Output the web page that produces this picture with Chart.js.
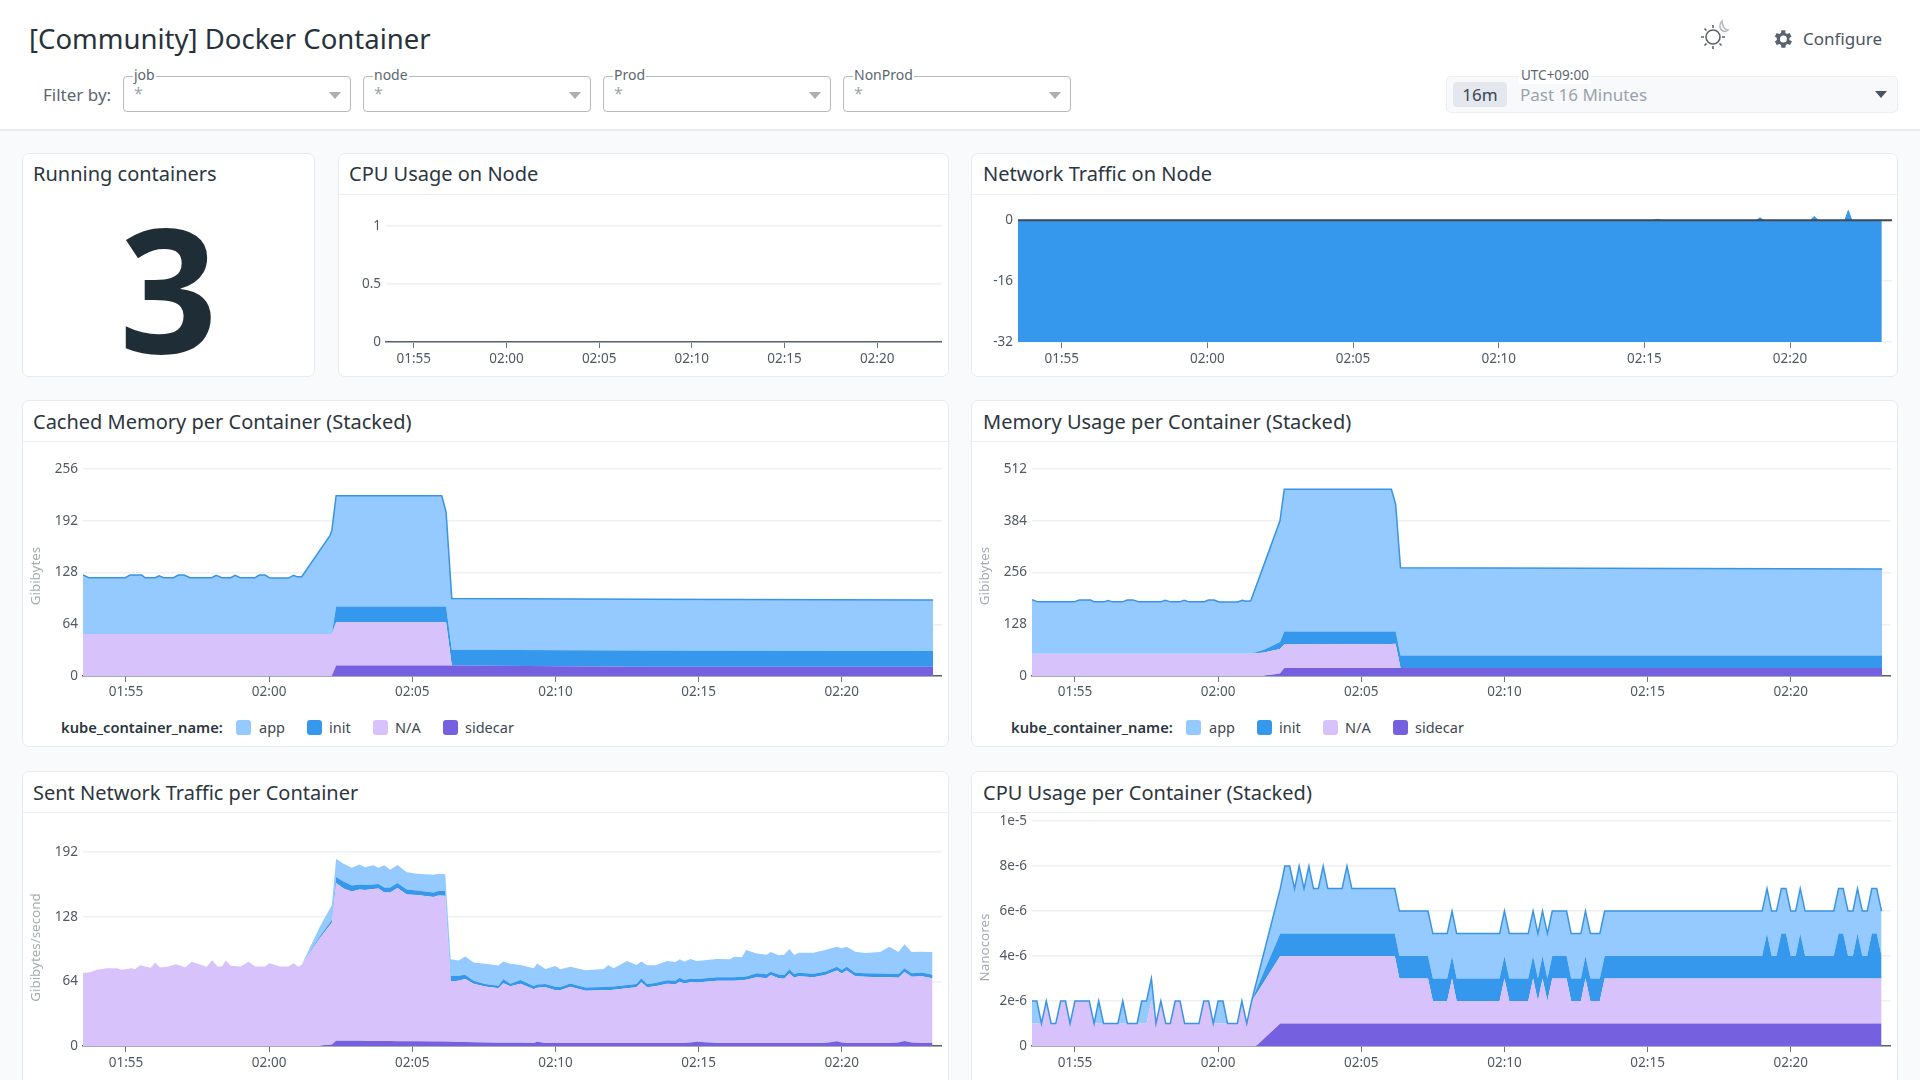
<!DOCTYPE html>
<html>
<head>
<meta charset="utf-8">
<title>[Community] Docker Container</title>
<script src="https://cdn.jsdelivr.net/npm/chart.js@4/dist/chart.umd.min.js"></script>
<style>
  html, body { margin: 0; padding: 0; width: 1920px; height: 1080px; overflow: hidden; background: #f8fafc; font-family: "Noto Sans", sans-serif; color: #2c3640; }
  .abs, canvas { position: absolute; }
  #header { position: absolute; left: 0; top: 0; width: 1920px; height: 129px; background: #fff; border-bottom: 2px solid #e9ecef; }
  .card { position: absolute; background: #fff; border: 1px solid #e8ebee; border-radius: 7px; box-sizing: border-box; }
  .divider { position: absolute; height: 1px; background: #eceef1; }
  .cardTitle { position: absolute; font-size: 20px; line-height: 28px; white-space: nowrap; color: #2c3640; }
  .filter { position: absolute; top: 76px; width: 228px; height: 36px; box-sizing: border-box; border: 1px solid #b5bac0; border-radius: 4px; background: #fff; }
  .filter .lab { position: absolute; left: 9px; top: -11px; background: #fff; padding: 0 1px; font-size: 14px; line-height: 18px; color: #5b6670; }
  .filter .star { position: absolute; left: 10px; top: 5px; font-size: 16px; line-height: 22px; color: #9ea5ac; }
  .arrow { position: absolute; width: 0; height: 0; border-left: 6px solid transparent; border-right: 6px solid transparent; border-top: 7px solid #a9afb5; }
  .legend { position: absolute; top: 717px; height: 20px; font-size: 14.5px; line-height: 20px; color: #3d4852; white-space: nowrap; }
  .legend b { position: absolute; left: 0; font-weight: 600; font-size: 14.7px; color: #2c3640; }
  .legend i { position: absolute; top: 3px; width: 15px; height: 15px; border-radius: 3px; }
  .legend span { position: absolute; }
</style>
</head>
<body>
<div id="header"></div>
<div class="abs" style="left:29px;top:18px;font-size:27.5px;line-height:42px;white-space:nowrap;color:#28323b">[Community] Docker Container</div>
<div class="abs" style="left:43px;top:83px;font-size:17px;line-height:24px;color:#5b6670">Filter by:</div>

<div class="filter" style="left:123px"><span class="lab">job</span><span class="star">*</span><div class="arrow" style="left:205px;top:15px"></div></div>
<div class="filter" style="left:363px"><span class="lab">node</span><span class="star">*</span><div class="arrow" style="left:205px;top:15px"></div></div>
<div class="filter" style="left:603px"><span class="lab">Prod</span><span class="star">*</span><div class="arrow" style="left:205px;top:15px"></div></div>
<div class="filter" style="left:843px"><span class="lab">NonProd</span><span class="star">*</span><div class="arrow" style="left:205px;top:15px"></div></div>

<div class="abs" style="left:1446px;top:76px;width:452px;height:37px;box-sizing:border-box;background:#f8f9fb;border:1px solid #eceef2;border-radius:5px"></div>
<div class="abs" style="left:1453px;top:82px;width:54px;height:25px;background:#e4e7ee;border-radius:4px;text-align:center;font-size:17px;line-height:25px;color:#3a444e">16m</div>
<div class="abs" style="left:1520px;top:83px;font-size:17px;line-height:24px;color:#9aa3ad">Past 16 Minutes</div>
<div class="abs" style="left:1519px;top:66px;padding:0 2px;background:#fff;font-size:13.5px;line-height:18px;color:#5b6670">UTC+09:00</div>
<div class="arrow" style="left:1875px;top:91px;border-top-color:#4b555f"></div>

<svg class="abs" style="left:1698px;top:18px" width="34" height="34" viewBox="0 0 34 34" fill="none" stroke="#59636d" stroke-width="1.6">
  <circle cx="15" cy="19" r="7"/>
  <path d="M15 7v3M15 28v3M3 19h3M24 19h3M6.5 10.5l2 2M21.500 25.500l2 2M6.500 27.500l2-2"/>
  <path d="M24 3c-3 3-3 8 1 10 2 1 4 0 5-1-3 0-6-4-6-9z" stroke="#b5bac0"/>
</svg>
<svg class="abs" style="left:1771px;top:27px" width="24" height="24" viewBox="0 0 24 24" fill="#59636d">
  <path d="M19.400 13a7.600 7.600 0 0 0 0-2l2.100-1.600-2-3.500-2.500 1a7.500 7.500 0 0 0-1.700-1L15.400 3.300h-4l-.4 2.600a7.500 7.500 0 0 0-1.700 1l-2.500-1-2 3.500L6.900 11a7.600 7.600 0 0 0 0 2l-2.100 1.600 2 3.500 2.500-1a7.500 7.500 0 0 0 1.700 1l.4 2.600h4l.4-2.600a7.500 7.500 0 0 0 1.700-1l2.500 1 2-3.500zM13.400 15.500a3.500 3.500 0 1 1 0-7 3.500 3.500 0 0 1 0 7z" transform="translate(-1 0)"/>
</svg>
<div class="abs" style="left:1803px;top:27px;font-size:17px;line-height:24px;color:#4b555f">Configure</div>

<div class="card" style="left:22px;top:153px;width:293px;height:224px"></div>
<div class="card" style="left:338px;top:153px;width:611px;height:224px"></div>
<div class="card" style="left:971px;top:153px;width:927px;height:224px"></div>
<div class="card" style="left:22px;top:400px;width:927px;height:347px"></div>
<div class="card" style="left:971px;top:400px;width:927px;height:347px"></div>
<div class="card" style="left:22px;top:771px;width:927px;height:340px"></div>
<div class="card" style="left:971px;top:771px;width:927px;height:340px"></div>

<div class="divider" style="left:339px;top:194px;width:609px"></div>
<div class="divider" style="left:972px;top:194px;width:925px"></div>
<div class="divider" style="left:23px;top:441px;width:925px"></div>
<div class="divider" style="left:972px;top:441px;width:925px"></div>
<div class="divider" style="left:23px;top:812px;width:925px"></div>
<div class="divider" style="left:972px;top:812px;width:925px"></div>

<div class="cardTitle" style="left:33px;top:160px">Running containers</div>
<div class="cardTitle" style="left:349px;top:160px">CPU Usage on Node</div>
<div class="cardTitle" style="left:983px;top:160px">Network Traffic on Node</div>
<div class="cardTitle" style="left:33px;top:408px">Cached Memory per Container (Stacked)</div>
<div class="cardTitle" style="left:983px;top:408px">Memory Usage per Container (Stacked)</div>
<div class="cardTitle" style="left:33px;top:779px">Sent Network Traffic per Container</div>
<div class="cardTitle" style="left:983px;top:779px">CPU Usage per Container (Stacked)</div>

<div class="abs" style="left:22px;top:200px;width:293px;text-align:center;font-size:172px;line-height:172px;font-weight:700;color:#1f2d36">3</div>

<canvas id="graficoCpuNode" width="602" height="159" style="left:340px;top:213px"></canvas>
<canvas id="graficoNetwork" width="915" height="175" style="left:977px;top:197px"></canvas>
<canvas id="graficoCached" width="915" height="250" style="left:27px;top:456px"></canvas>
<canvas id="graficoMemory" width="915" height="250" style="left:976px;top:456px"></canvas>
<canvas id="graficoSent" width="915" height="240" style="left:27px;top:836px"></canvas>
<canvas id="graficoCpu" width="915" height="268" style="left:976px;top:808px"></canvas>

<div class="legend" style="left:61px;width:500px"><b>kube_container_name:</b>
  <i style="left:175px;background:#94caff"></i><span style="left:198px">app</span>
  <i style="left:246px;background:#3598ec"></i><span style="left:268px">init</span>
  <i style="left:312px;background:#d8c2fb"></i><span style="left:334px">N/A</span>
  <i style="left:382px;background:#7560df"></i><span style="left:404px">sidecar</span>
</div>
<div class="legend" style="left:1011px;width:500px"><b>kube_container_name:</b>
  <i style="left:175px;background:#94caff"></i><span style="left:198px">app</span>
  <i style="left:246px;background:#3598ec"></i><span style="left:268px">init</span>
  <i style="left:312px;background:#d8c2fb"></i><span style="left:334px">N/A</span>
  <i style="left:382px;background:#7560df"></i><span style="left:404px">sidecar</span>
</div>

<script>
// eixo x em minutos do dia (01:55 = 115)
const xMin = 113.5;
const xMax = 143.5;
const xTicks = [115, 120, 125, 130, 135, 140];
const xLabels = ["01:55", "02:00", "02:05", "02:10", "02:15", "02:20"];

// CPU Usage on Node
const cpuNodeTimes = [113.5, 143.2];
const cpuNodeValues = [0, 0];
const cpuNodeTicks = [0, 0.5, 1];
const cpuNodeTickLabels = ["0", "0.5", "1"];

// Network Traffic on Node
const netTimes = [113.5, 135.3, 135.46, 135.6, 138.85, 138.97, 139.1, 140.7, 140.83, 140.97, 141.88, 142, 142.12, 143.15];
const netReceived = [-32, -32, -32, -32, -32, -32, -32, -32, -32, -32, -32, -32, -32, -32];
const netSent = [0, 0, 0.3, 0, 0, 0.7, 0, 0, 1, 0, 0, 2.6, 0, 0];
const netTicks = [-32, -16, 0];
const netTickLabels = ["-32", "-16", "0"];

// Cached Memory per Container
const cachedTimes = [113.5, 113.7, 114.97, 115.15, 115.55, 115.67, 116.02, 116.16, 116.31, 116.66, 116.83, 117.03, 117.24, 118, 118.15, 118.35, 118.66, 118.81, 118.99, 119.51, 119.66, 119.86, 120.03, 120.68, 120.85, 120.97, 121.14, 122.13, 122.19, 122.34, 126.03, 126.18, 126.38, 133, 143.19];
const cachedSidecar = [0, 0, 0, 0, 0, 0, 0, 0, 0, 0, 0, 0, 0, 0, 0, 0, 0, 0, 0, 0, 0, 0, 0, 0, 0, 0, 0, 0, 0, 13, 13, 13, 13, 11.5, 11.5];
const cachedNa = [52, 52, 52, 52, 52, 52, 52, 52, 52, 52, 52, 52, 52, 52, 52, 52, 52, 52, 52, 52, 52, 52, 52, 52, 52, 52, 52, 52, 52, 53.5, 53.5, 53.5, 0, 0, 0];
const cachedInit = [0, 0, 0, 0, 0, 0, 0, 0, 0, 0, 0, 0, 0, 0, 0, 0, 0, 0, 0, 0, 0, 0, 0, 0, 0, 0, 0, 0, 0, 19.5, 19.5, 19.5, 19.5, 20, 19.5];
const cachedApp = [73, 69.6, 69.6, 72.9, 72.9, 69.6, 69.6, 72, 69.6, 69.6, 72.9, 72.9, 69.6, 69.6, 72.5, 69.6, 69.6, 72.5, 69.6, 69.6, 72.9, 72.9, 69.2, 69.2, 72.5, 70.8, 70.8, 122, 128, 137, 137, 117, 63.5, 63.5, 63];
const cachedTicks = [0, 64, 128, 192, 256];

// Memory Usage per Container
const memoryTimes = [113.5, 113.7, 114.97, 115.15, 115.55, 115.67, 116.02, 116.16, 116.31, 116.66, 116.83, 117.03, 117.24, 118, 118.15, 118.35, 118.66, 118.81, 118.99, 119.51, 119.66, 119.86, 120.03, 120.68, 120.85, 120.97, 121.14, 121.6, 122.16, 122.31, 126.05, 126.2, 126.37, 133, 143.19];
const memorySidecar = [0, 0, 0, 0, 0, 0, 0, 0, 0, 0, 0, 0, 0, 0, 0, 0, 0, 0, 0, 0, 0, 0, 0, 0, 0, 0, 0, 0, 6, 20, 20, 20, 20, 20, 20];
const memoryNa = [55, 55, 55, 55, 55, 55, 55, 55, 55, 55, 55, 55, 55, 55, 55, 55, 55, 55, 55, 55, 55, 55, 55, 55, 55, 55, 55, 58, 61, 58, 59, 60, 0, 0, 0];
const memoryInit = [0, 0, 0, 0, 0, 0, 0, 0, 0, 0, 0, 0, 0, 0, 0, 0, 0, 0, 0, 0, 0, 0, 0, 0, 0, 0, 0, 7, 17, 32, 31, 30, 31, 31, 31];
const memoryApp = [134, 128.5, 128.5, 133, 133, 128.5, 128.5, 132, 128.5, 128.5, 133, 133, 128.5, 128.5, 132.5, 128.5, 128.5, 132.5, 128.5, 128.5, 133, 133, 128, 128, 132.5, 130, 131, 210, 300, 352, 352, 315, 217, 215.5, 214];
const memoryTicks = [0, 128, 256, 384, 512];

// Sent Network Traffic per Container
const sentTimes = [
  113.49, 113.75, 113.98, 114.33, 114.68, 114.85, 115.2, 115.32, 115.49, 115.87,
  116.02, 116.19, 116.48, 116.75, 117.07, 117.3, 117.82, 118.01, 118.2, 118.35,
  118.49, 118.66, 119.01, 119.28, 119.51, 119.86, 120.01, 120.38, 120.68, 120.85,
  121.02, 121.14,
  121.78, 122.19, 122.34, 122.6, 122.89, 123.15, 123.35, 123.64, 123.82, 124.02,
  124.23, 124.48, 124.81, 125.16, 125.74, 125.91, 126.15, 126.34, 126.61, 126.85,
  127.14, 127.54, 128.01, 128.18, 128.42, 128.78, 129.24, 129.36, 129.65, 130,
  130.17, 130.52, 131.05, 131.69, 131.84, 132.03, 132.5, 132.83, 133, 133.2,
  133.49, 133.9, 134.19, 134.34, 134.5, 134.71, 134.94, 135.64, 136.1, 136.24,
  136.51, 136.66, 137.03, 137.38, 137.52, 137.79, 137.99, 138.17, 138.34, 138.49,
  139.01, 139.42, 139.83, 140, 140.17, 140.47, 140.81, 141.34, 141.66, 141.98,
  142.19, 142.44, 142.79, 143.17
];
const sentSidecar = [
  0, 0, 0, 0, 0, 0, 0, 0, 0, 0,
  0, 0, 0, 0, 0, 0, 0, 0, 0, 0,
  0, 0, 0, 0, 0, 0, 0, 0, 0, 0,
  0, 0,
  0, 1.5, 5.2, 5.2, 5.1, 5.1, 5, 5, 5, 4.9,
  4.9, 4.8, 4.7, 4.6, 4.5, 4.5, 4.4, 4.2, 4, 4,
  3.8, 3.5, 3.3, 3.3, 3.2, 3.2, 3, 4.3, 3, 3,
  3, 3, 3, 3, 3, 3, 3, 3, 3, 3,
  3, 3, 3, 3, 3, 3.5, 4.3, 3, 3, 3,
  3, 3, 3, 3, 3, 3, 3, 3, 3, 3,
  3, 3, 4.6, 3.5, 3, 3, 3, 3, 3, 3.5,
  5, 3.5, 3, 3
];
const sentNa = [
  72.2, 73, 75.5, 77, 77, 75.5, 77, 76, 80, 77.5,
  82.7, 77.8, 78.8, 81, 78, 83.4, 78.4, 85, 78.8, 78.8,
  84.7, 79.4, 78.8, 83.4, 78.8, 78.8, 82, 78.8, 78.8, 82,
  78.4, 80.4,
  107.3, 120.5, 156.3, 150.8, 147.9, 149.9, 149.6, 150.5, 151, 147.1,
  147.1, 151.6, 145.3, 144.9, 143, 144.5, 144.4, 59.8, 60.5, 62.3,
  57.8, 55.4, 53.9, 58.9, 56, 58.5, 53.2, 53.4, 55.2, 52.2,
  52.2, 55.7, 51.7, 52.2, 52.2, 52.7, 54.2, 55.2, 60.2, 55.2,
  56.2, 58.7, 58.2, 60.7, 59, 59.7, 58.7, 61.7, 61.7, 61.7,
  62.2, 62.5, 65.2, 64.2, 67.2, 64.2, 63.7, 68.7, 64.7, 66.2,
  65.2, 67.2, 70.1, 68.2, 71.7, 66.2, 65.7, 65.2, 65.2, 64.2,
  68.2, 65.2, 66.2, 64.2
];
const sentInit = [
  0, 0, 0, 0, 0, 0, 0, 0, 0, 0,
  0, 0, 0, 0, 0, 0, 0, 0, 0, 0,
  0, 0, 0, 0, 0, 0, 0, 0, 0, 0,
  0, 0,
  1.7, 2.7, 5.9, 7, 6, 5, 5, 4.5, 4.5, 5,
  4.9, 5.1, 5, 4.5, 4.5, 4.6, 4.8, 5.6, 5, 4.3,
  3.1, 2.5, 2.5, 4.1, 2.5, 3.6, 3.2, 3.3, 3.3, 3.5,
  3.3, 3.3, 3.3, 3.3, 3.4, 3.3, 3.3, 3.2, 3.8, 3.2,
  3.3, 3.3, 3.3, 4, 3.3, 3.4, 3.3, 3.3, 3.3, 3.3,
  3.3, 3.3, 3.8, 3.8, 3.4, 3.6, 3.6, 4.2, 3.6, 3.4,
  3.3, 3.3, 3.8, 3.5, 3.8, 3.4, 3.3, 3.6, 3.3, 3.6,
  3.7, 3.3, 3.6, 3.4
];
const sentApp = [
  0, 0, 0, 0, 0, 0, 0, 0, 0, 0,
  0, 0, 0, 0, 0, 0, 0, 0, 0, 0,
  0, 0, 0, 0, 0, 0, 0, 0, 0, 0,
  0, 0,
  9.6, 14.8, 18, 17.5, 17.6, 19.8, 17.4, 18.9, 16.1, 21.9,
  17.7, 17.7, 17, 16.7, 17.7, 17.1, 16.4, 16.4, 15.2, 18,
  18, 20, 20, 17.4, 19.7, 14.9, 17.5, 20.8, 14.7, 20.5,
  17.4, 16.5, 16.9, 17.7, 21.6, 17.9, 23.7, 18.8, 16.8, 18.5,
  17.4, 19.2, 18.7, 18.1, 18.2, 19.5, 17.9, 18.1, 17.8, 20.4,
  19.3, 26.2, 19.7, 19.4, 19.4, 19, 20.1, 20.1, 18.7, 19.8,
  20.9, 21.5, 19.8, 21.5, 19.8, 20.8, 20, 21.2, 26.8, 21.7,
  23.8, 21, 20.6, 22.4
];
const sentTicks = [0, 64, 128, 192];

// CPU Usage per Container (valores em 1e-6)
const cpuTimes = [
  113.5, 113.67, 113.83, 114, 114.17, 114.33, 114.5, 114.67, 114.83, 115,
  115.5, 115.67, 115.83, 116, 116.5, 116.67, 116.83, 117.17, 117.33, 117.5,
  117.67, 117.83, 118, 118.17, 118.33, 118.5, 118.67, 118.83, 119.33, 119.5,
  119.67, 119.83, 120, 120.17, 120.33, 120.67, 120.83, 121, 121.17, 121.33,
  122.17, 122.33, 122.5, 122.67, 122.83, 123, 123.17, 123.33, 123.5, 123.67,
  123.83, 124.33, 124.5, 124.67, 126.17, 126.33, 127.33, 127.5, 128, 128.17,
  128.33, 129.83, 130, 130.17, 130.83, 131, 131.17, 131.33, 131.5, 131.67,
  132.17, 132.33, 132.67, 132.83, 133, 133.33, 133.5, 139, 139.17, 139.33,
  139.5, 139.67, 139.83, 140, 140.17, 140.33, 140.5, 141.5, 141.67, 141.83,
  142, 142.17, 142.33, 142.5, 142.67, 142.83, 143, 143.17
];
const cpuSidecar = [
  0, 0, 0, 0, 0, 0, 0, 0, 0, 0,
  0, 0, 0, 0, 0, 0, 0, 0, 0, 0,
  0, 0, 0, 0, 0, 0, 0, 0, 0, 0,
  0, 0, 0, 0, 0, 0, 0, 0, 0, 0,
  1, 1, 1, 1, 1, 1, 1, 1, 1, 1,
  1, 1, 1, 1, 1, 1, 1, 1, 1, 1,
  1, 1, 1, 1, 1, 1, 1, 1, 1, 1,
  1, 1, 1, 1, 1, 1, 1, 1, 1, 1,
  1, 1, 1, 1, 1, 1, 1, 1, 1, 1,
  1, 1, 1, 1, 1, 1, 1, 1
];
const cpuNa = [
  1, 1, 1, 2, 1, 1, 2, 2, 1, 2,
  2, 1, 1, 1, 1, 1, 1, 1, 1, 1,
  2, 1, 2, 1, 1, 2, 2, 1, 1, 2,
  2, 1, 1, 1, 1, 1, 2, 1, 2, 2.3,
  3, 3, 3, 3, 3, 3, 3, 3, 3, 3,
  3, 3, 3, 3, 3, 2, 2, 1, 1, 2,
  1, 1, 2, 1, 1, 2, 1, 2, 1, 2,
  2, 1, 1, 2, 1, 1, 2, 2, 2, 2,
  2, 2, 2, 2, 2, 2, 2, 2, 2, 2,
  2, 2, 2, 2, 2, 2, 2, 2
];
const cpuInit = [
  0, 0, 0, 0, 0, 0, 0, 0, 0, 0,
  0, 0, 0, 0, 0, 0, 0, 0, 0, 0,
  0, 0, 0, 0, 0, 0, 0, 0, 0, 0,
  0, 0, 0, 0, 0, 0, 0, 0, 0, 0.2,
  1, 1, 1, 1, 1, 1, 1, 1, 1, 1,
  1, 1, 1, 1, 1, 1, 1, 1, 1, 1,
  1, 1, 1, 1, 1, 1, 1, 1, 1, 1,
  1, 1, 1, 1, 1, 1, 1, 1, 2, 1,
  1, 2, 2, 1, 1, 2, 1, 1, 2, 2,
  1, 1, 2, 1, 1, 2, 2, 1
];
const cpuApp = [
  1, 1, 0, 0, 0, 0, 0, 0, 0, 0,
  0, 0, 1, 0, 0, 1, 0, 0, 1, 1,
  1, 0, 0, 0, 0, 0, 0, 0, 0, 0,
  0, 0, 1, 1, 0, 0, 0, 0, 0, 0.3,
  2, 3, 3, 2, 3, 2, 3, 2, 2, 3,
  2, 2, 3, 2, 2, 2, 2, 2, 2, 2,
  2, 2, 2, 2, 2, 2, 2, 2, 2, 2,
  2, 2, 2, 2, 2, 2, 2, 2, 2, 2,
  2, 2, 2, 2, 2, 2, 2, 2, 2, 2,
  2, 2, 2, 2, 2, 2, 2, 2
];
const cpuTicks = [0, 2, 4, 6, 8, 10];
const cpuTickLabels = ["0", "2e-6", "4e-6", "6e-6", "8e-6", "1e-5"];

const corApp = "#94caff";
const corAppLinha = "#3a94e4";
const corInit = "#3598ec";
const corNa = "#d8c2fb";
const corSidecar = "#7560df";
const fonteTicks = { family: "'Noto Sans'", size: 13.5 };

function pontos(tempos, valores) {
  return tempos.map((t, i) => ({ x: t, y: valores[i] }));
}

function criarGrafico(id, datasets, cfg) {
  const rotulosY = cfg.yLabels || cfg.yTicks.map(String);
  new Chart(document.getElementById(id), {
    type: "line",
    data: { datasets: datasets },
    options: {
      responsive: false,
      animation: false,
      events: [],
      layout: { padding: { top: cfg.padTop, right: 0, bottom: 0, left: 0 } },
      elements: { point: { radius: 0 }, line: { tension: 0 } },
      plugins: {
        legend: { display: false },
        tooltip: { enabled: false },
        filler: { drawTime: "beforeDatasetsDraw" },
      },
      scales: {
        x: {
          type: "linear",
          min: xMin,
          max: xMax,
          afterBuildTicks: (s) => { s.ticks = xTicks.map((v) => ({ value: v })); },
          afterFit: (s) => { s.height = 30; },
          ticks: {
            autoSkip: false,
            maxRotation: 0,
            padding: cfg.xPad,
            color: "#4f5963",
            font: fonteTicks,
            callback: (v) => xLabels[xTicks.indexOf(v)],
          },
          grid: { drawOnChartArea: false, tickLength: 6, color: "#6b7480" },
          border: cfg.bottomLine === false
            ? { display: false }
            : { color: "#59636e", width: 1.5 },
        },
        y: {
          stacked: cfg.stacked,
          min: cfg.yMin || 0,
          max: cfg.yMax,
          afterBuildTicks: (s) => { s.ticks = cfg.yTicks.map((v) => ({ value: v })); },
          afterFit: (s) => { s.width = cfg.yWidth; },
          ticks: {
            padding: 5,
            color: "#4f5963",
            font: fonteTicks,
            callback: (v) => rotulosY[cfg.yTicks.indexOf(v)],
          },
          grid: { drawTicks: false, color: "#eef0f3", lineWidth: 1.5 },
          border: { display: false },
          title: cfg.yTitle
            ? {
                display: true,
                text: cfg.yTitle,
                color: "#a4abb2",
                padding: { top: 1, bottom: 0 },
                font: { family: "'Noto Sans'", size: 13.4, lineHeight: 1.2 },
              }
            : { display: false },
        },
      },
    },
  });
}

function camadas(tempos, sidecar, na, init, app, linhaApp) {
  return [
    { label: "sidecar", data: pontos(tempos, sidecar), borderWidth: 0, backgroundColor: corSidecar, fill: "origin" },
    { label: "N/A", data: pontos(tempos, na), borderWidth: 0, backgroundColor: corNa, fill: "-1" },
    { label: "init", data: pontos(tempos, init), borderWidth: 0, backgroundColor: corInit, fill: "-1" },
    { label: "app", data: pontos(tempos, app), borderWidth: linhaApp ? 1.5 : 0, borderColor: corAppLinha, backgroundColor: corApp, fill: "-1" },
  ];
}

criarGrafico(
  "graficoCpuNode",
  [{ label: "cpu", data: pontos(cpuNodeTimes, cpuNodeValues), borderWidth: 1, borderColor: "#59636e" }],
  { yTicks: cpuNodeTicks, yLabels: cpuNodeTickLabels, yMax: 1, yWidth: 46, padTop: 12, xPad: 3, stacked: false }
);

criarGrafico(
  "graficoNetwork",
  [
    // linha do zero fica por cima da area
    { label: "zero", data: pontos([xMin, xMax], [0, 0]), borderWidth: 2, borderColor: "#3f4a55" },
    { label: "sent", data: pontos(netTimes, netSent), borderWidth: 1, borderColor: corInit, backgroundColor: corInit, fill: "origin" },
    { label: "received", data: pontos(netTimes, netReceived), borderWidth: 0, backgroundColor: corInit, fill: "origin" },
  ],
  { yTicks: netTicks, yLabels: netTickLabels, yMin: -32, yMax: 2.7, yWidth: 41, padTop: 11, xPad: 3, stacked: false, bottomLine: false }
);

// nbsp no fim dos titulos empurra o texto para baixo, como no original
criarGrafico(
  "graficoCached",
  camadas(cachedTimes, cachedSidecar, cachedNa, cachedInit, cachedApp, true),
  { yTicks: cachedTicks, yMax: 256, yWidth: 56, padTop: 12, xPad: 2, stacked: true, yTitle: "Gibibytes\u00a0\u00a0" }
);

criarGrafico(
  "graficoMemory",
  camadas(memoryTimes, memorySidecar, memoryNa, memoryInit, memoryApp, true),
  { yTicks: memoryTicks, yMax: 512, yWidth: 56, padTop: 12, xPad: 2, stacked: true, yTitle: "Gibibytes\u00a0\u00a0" }
);

criarGrafico(
  "graficoSent",
  camadas(sentTimes, sentSidecar, sentNa, sentInit, sentApp, false),
  { yTicks: sentTicks, yMax: 195, yWidth: 56, padTop: 12, xPad: 3, stacked: true, yTitle: "Gibibytes/second" }
);

criarGrafico(
  "graficoCpu",
  camadas(cpuTimes, cpuSidecar, cpuNa, cpuInit, cpuApp, true),
  { yTicks: cpuTicks, yLabels: cpuTickLabels, yMax: 10, yWidth: 56, padTop: 12, xPad: 3, stacked: true, yTitle: "Nanocores\u00a0\u00a0\u00a0\u00a0\u00a0\u00a0\u00a0\u00a0" }
);
</script>
</body>
</html>
